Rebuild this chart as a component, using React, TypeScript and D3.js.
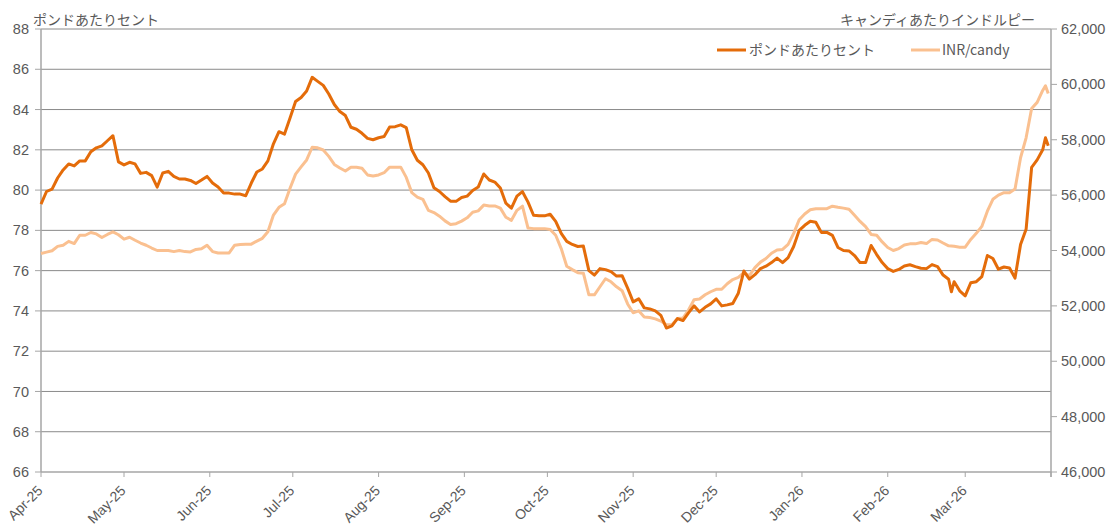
import React from 'react';
import * as d3 from 'd3';

const dates = [
  '2025-04-01', '2025-04-03', '2025-04-05', '2025-04-07', '2025-04-09', '2025-04-11', '2025-04-13', '2025-04-15',
  '2025-04-17', '2025-04-19', '2025-04-21', '2025-04-23', '2025-04-25', '2025-04-27', '2025-04-29',
  '2025-05-01', '2025-05-03', '2025-05-05', '2025-05-07', '2025-05-09', '2025-05-11', '2025-05-13', '2025-05-15',
  '2025-05-17', '2025-05-19', '2025-05-21', '2025-05-23', '2025-05-25', '2025-05-27', '2025-05-29', '2025-05-31',
  '2025-06-02', '2025-06-04', '2025-06-06', '2025-06-08', '2025-06-10', '2025-06-12', '2025-06-14', '2025-06-16',
  '2025-06-18', '2025-06-20', '2025-06-22', '2025-06-24', '2025-06-26', '2025-06-28', '2025-06-30',
  '2025-07-02', '2025-07-04', '2025-07-06', '2025-07-08', '2025-07-10', '2025-07-12', '2025-07-14', '2025-07-16',
  '2025-07-18', '2025-07-20', '2025-07-22', '2025-07-24', '2025-07-26', '2025-07-28', '2025-07-30',
  '2025-08-01', '2025-08-03', '2025-08-05', '2025-08-07', '2025-08-09', '2025-08-11', '2025-08-13', '2025-08-15',
  '2025-08-17', '2025-08-19', '2025-08-21', '2025-08-23', '2025-08-25', '2025-08-27', '2025-08-29', '2025-08-31',
  '2025-09-02', '2025-09-04', '2025-09-06', '2025-09-08', '2025-09-10', '2025-09-12', '2025-09-14', '2025-09-16',
  '2025-09-18', '2025-09-20', '2025-09-22', '2025-09-24', '2025-09-26', '2025-09-28', '2025-09-30',
  '2025-10-02', '2025-10-04', '2025-10-06', '2025-10-08', '2025-10-10', '2025-10-12', '2025-10-14', '2025-10-16',
  '2025-10-18', '2025-10-20', '2025-10-22', '2025-10-24', '2025-10-26', '2025-10-28', '2025-10-30',
  '2025-11-01', '2025-11-03', '2025-11-05', '2025-11-07', '2025-11-09', '2025-11-11', '2025-11-13', '2025-11-15',
  '2025-11-17', '2025-11-19', '2025-11-21', '2025-11-23', '2025-11-25', '2025-11-27', '2025-11-29',
  '2025-12-01', '2025-12-03', '2025-12-05', '2025-12-07', '2025-12-09', '2025-12-11', '2025-12-13', '2025-12-15',
  '2025-12-17', '2025-12-19', '2025-12-21', '2025-12-23', '2025-12-25', '2025-12-27', '2025-12-29', '2025-12-31',
  '2026-01-02', '2026-01-04', '2026-01-06', '2026-01-08', '2026-01-10', '2026-01-12', '2026-01-14', '2026-01-16',
  '2026-01-18', '2026-01-20', '2026-01-22', '2026-01-24', '2026-01-26', '2026-01-28', '2026-01-30',
  '2026-02-01', '2026-02-03', '2026-02-05', '2026-02-07', '2026-02-09', '2026-02-11', '2026-02-13', '2026-02-15',
  '2026-02-17', '2026-02-19', '2026-02-21', '2026-02-23', '2026-02-24', '2026-02-25', '2026-02-27',
  '2026-03-01', '2026-03-03', '2026-03-05', '2026-03-07', '2026-03-09', '2026-03-11', '2026-03-13', '2026-03-15',
  '2026-03-17', '2026-03-19', '2026-03-21', '2026-03-23', '2026-03-25', '2026-03-27', '2026-03-29', '2026-03-30',
  '2026-03-31',
];

// ポンドあたりセント (left axis)
const poundCents = [
  79.3, 79.93, 80.05, 80.6, 81.0, 81.3, 81.2, 81.45, 81.45, 81.9, 82.1, 82.2, 82.45, 82.7, 81.4,
  81.25, 81.38, 81.3, 80.83, 80.88, 80.72, 80.15, 80.85, 80.93, 80.68, 80.55, 80.55, 80.48, 80.33, 80.5, 80.68,
  80.35, 80.15, 79.85, 79.85, 79.8, 79.8, 79.72, 80.35, 80.9, 81.05, 81.45, 82.3, 82.9, 82.78, 83.58,
  84.4, 84.6, 84.92, 85.6, 85.4, 85.2, 84.77, 84.25, 83.9, 83.7, 83.12, 83.02, 82.82, 82.57, 82.5,
  82.6, 82.66, 83.13, 83.15, 83.24, 83.1, 82.0, 81.48, 81.26, 80.85, 80.12, 79.93, 79.68, 79.45, 79.44, 79.63,
  79.7, 79.98, 80.15, 80.8, 80.5, 80.4, 80.1, 79.35, 79.1, 79.7, 79.92, 79.4, 78.75, 78.72, 78.72,
  78.8, 78.45, 77.85, 77.45, 77.3, 77.2, 77.22, 76.0, 75.78, 76.1, 76.05, 75.95, 75.73, 75.75, 75.13,
  74.45, 74.6, 74.15, 74.1, 74.0, 73.78, 73.15, 73.26, 73.62, 73.52, 73.9, 74.25, 73.95, 74.18, 74.35,
  74.6, 74.25, 74.3, 74.37, 74.88, 75.98, 75.58, 75.8, 76.1, 76.22, 76.4, 76.62, 76.4, 76.65, 77.2, 78.0,
  78.25, 78.45, 78.4, 77.9, 77.9, 77.75, 77.15, 77.0, 76.98, 76.75, 76.4, 76.4, 77.25, 76.8, 76.4,
  76.1, 75.96, 76.06, 76.23, 76.29, 76.2, 76.12, 76.1, 76.3, 76.2, 75.78, 75.57, 74.95, 75.45, 75.0,
  74.75, 75.4, 75.45, 75.7, 76.75, 76.6, 76.07, 76.18, 76.13, 75.63, 77.3, 78.05, 81.13, 81.5, 82.0, 82.6,
  82.2,
];

// INR/candy (right axis)
const inrPerCandy = [
  53890, 53940, 53990, 54150, 54190, 54330, 54250, 54550, 54550, 54650, 54600, 54470, 54580, 54670, 54570,
  54410, 54480, 54370, 54270, 54190, 54090, 54000, 54000, 54000, 53960, 54000, 53960, 53950, 54040, 54060, 54190,
  53960, 53910, 53910, 53910, 54190, 54220, 54230, 54230, 54340, 54440, 54680, 55280, 55560, 55690, 56250,
  56760, 57020, 57270, 57730, 57710, 57630, 57400, 57110, 56980, 56870, 57010, 57010, 56970, 56730, 56690,
  56730, 56810, 57010, 57010, 57010, 56640, 56090, 55930, 55850, 55450, 55370, 55240, 55070, 54940, 54970, 55060,
  55180, 55380, 55430, 55640, 55610, 55610, 55530, 55200, 55090, 55450, 55600, 54810, 54790, 54790, 54790,
  54760, 54550, 54070, 53430, 53310, 53200, 53180, 52400, 52400, 52690, 52980, 52870, 52690, 52550, 52070,
  51750, 51820, 51600, 51580, 51530, 51450, 51320, 51320, 51540, 51560, 51850, 52220, 52250, 52400, 52510,
  52600, 52600, 52800, 52950, 53030, 53200, 53090, 53380, 53580, 53710, 53900, 54020, 54040, 54220, 54620, 55110,
  55320, 55470, 55510, 55510, 55510, 55600, 55560, 55530, 55490, 55270, 55050, 54860, 54580, 54550, 54310,
  54110, 54000, 54070, 54200, 54240, 54240, 54290, 54250, 54400, 54380, 54270, 54170, 54160, 54150, 54120,
  54120, 54400, 54620, 54870, 55420, 55850, 56000, 56090, 56090, 56220, 57350, 58070, 59130, 59350, 59780, 59950,
  59670,
];

const monthTicks = [
  '2025-04-01', '2025-05-01', '2025-06-01', '2025-07-01', '2025-08-01', '2025-09-01', '2025-10-01',
  '2025-11-01', '2025-12-01', '2026-01-01', '2026-02-01', '2026-03-01', '2026-04-01',
];
const leftTicks = [66, 68, 70, 72, 74, 76, 78, 80, 82, 84, 86, 88];
const rightTicks = [46000, 48000, 50000, 52000, 54000, 56000, 58000, 60000, 62000];

const W = 1113;
const H = 531;
const M = { top: 29, right: 62, bottom: 59, left: 41 };

const DARK = '#E46C0A';
const LIGHT = '#FAC090';
const TEXT = '#595959';
const NUM_FONT = '"Liberation Sans", Arial, sans-serif';
const JP_FONT = '"Noto Sans CJK JP", "Noto Sans", sans-serif';

type Pt = { date: Date; pound: number; inr: number };

export default function App() {
  const parse = d3.timeParse('%Y-%m-%d');
  const points: Pt[] = dates.map((d, i) => ({ date: parse(d)!, pound: poundCents[i], inr: inrPerCandy[i] }));

  const x = d3.scaleTime()
    .domain([parse(monthTicks[0])!, parse(monthTicks[monthTicks.length - 1])!])
    .range([M.left, W - M.right]);
  const yL = d3.scaleLinear().domain([66, 88]).range([H - M.bottom, M.top]);
  const yR = d3.scaleLinear().domain([46000, 62000]).range([H - M.bottom, M.top]);

  const poundLine = d3.line<Pt>().x(d => x(d.date)).y(d => yL(d.pound));
  const inrLine = d3.line<Pt>().x(d => x(d.date)).y(d => yR(d.inr));

  const fmtMonth = d3.timeFormat('%b-%y');
  const fmtNum = d3.format(',');
  const x0 = M.left;
  const x1 = W - M.right;
  const yBottom = H - M.bottom;

  return (
    <svg width={W} height={H} style={{ position: 'absolute', left: 0, top: 0, display: 'block', background: '#fff' }}>
      {/* gridlines */}
      <g>
        {leftTicks.slice(1).map(v => (
          <line key={v} x1={x0} x2={x1} y1={yL(v)} y2={yL(v)} stroke="#8a8a8a" strokeWidth={1} />
        ))}
      </g>

      {/* left axis */}
      <g>
        <line x1={x0} x2={x0} y1={M.top} y2={yBottom} stroke="#a6a6a6" strokeWidth={1.5} />
        {leftTicks.map(v => (
          <g key={v} transform={`translate(0,${yL(v)})`}>
            <line x1={x0 - 6} x2={x0} stroke="#a6a6a6" />
            <text x={29} dy="0.35em" textAnchor="end" fontSize={14.5} fill={TEXT} fontFamily={NUM_FONT}>{v}</text>
          </g>
        ))}
      </g>

      {/* right axis */}
      <g>
        <line x1={x1} x2={x1} y1={M.top} y2={yBottom + 5} stroke="#a6a6a6" strokeWidth={1.5} />
        {rightTicks.map(v => (
          <g key={v} transform={`translate(0,${yR(v)})`}>
            <line x1={x1} x2={x1 + 6} stroke="#a6a6a6" />
            <text x={x1 + 10} dy="0.35em" textAnchor="start" fontSize={14.5} fill={TEXT} fontFamily={NUM_FONT}>{fmtNum(v)}</text>
          </g>
        ))}
      </g>

      {/* bottom axis */}
      <g>
        <line x1={x0} x2={x1} y1={yBottom} y2={yBottom} stroke="#a6a6a6" strokeWidth={1.5} />
        {monthTicks.map((m, i) => {
          const px = x(parse(m)!);
          return (
            <g key={m}>
              <line x1={px} x2={px} y1={yBottom} y2={yBottom + 5} stroke="#a6a6a6" />
              {i < monthTicks.length - 1 && (
                <text
                  transform={`translate(${px - 1},${yBottom + 16}) rotate(-45)`}
                  textAnchor="end"
                  dy="0.35em"
                  fontSize={14}
                  fill={TEXT}
                  fontFamily={NUM_FONT}>
                  {fmtMonth(parse(m)!)}
                </text>
              )}
            </g>
          );
        })}
      </g>

      {/* series */}
      <path d={inrLine(points) ?? ''} fill="none" stroke={LIGHT} strokeWidth={3} strokeLinejoin="round" />
      <path d={poundLine(points) ?? ''} fill="none" stroke={DARK} strokeWidth={3} strokeLinejoin="round" />

      {/* axis titles */}
      <text x={33} y={25} fontSize={14} fill={TEXT} fontFamily={JP_FONT}>ポンドあたりセント</text>
      <text x={1035} y={25} textAnchor="end" fontSize={14} fill={TEXT} fontFamily={JP_FONT}>キャンディあたりインドルピー</text>

      {/* legend */}
      <g fontFamily={JP_FONT} fontSize={14} fill={TEXT}>
        <line x1={717} x2={746} y1={50} y2={50} stroke={DARK} strokeWidth={3} />
        <text x={749} y={50} dy="0.35em">ポンドあたりセント</text>
        <line x1={911} x2={940} y1={50} y2={50} stroke={LIGHT} strokeWidth={3} />
        <text x={942} y={50} dy="0.35em">INR/candy</text>
      </g>
    </svg>
  );
}
